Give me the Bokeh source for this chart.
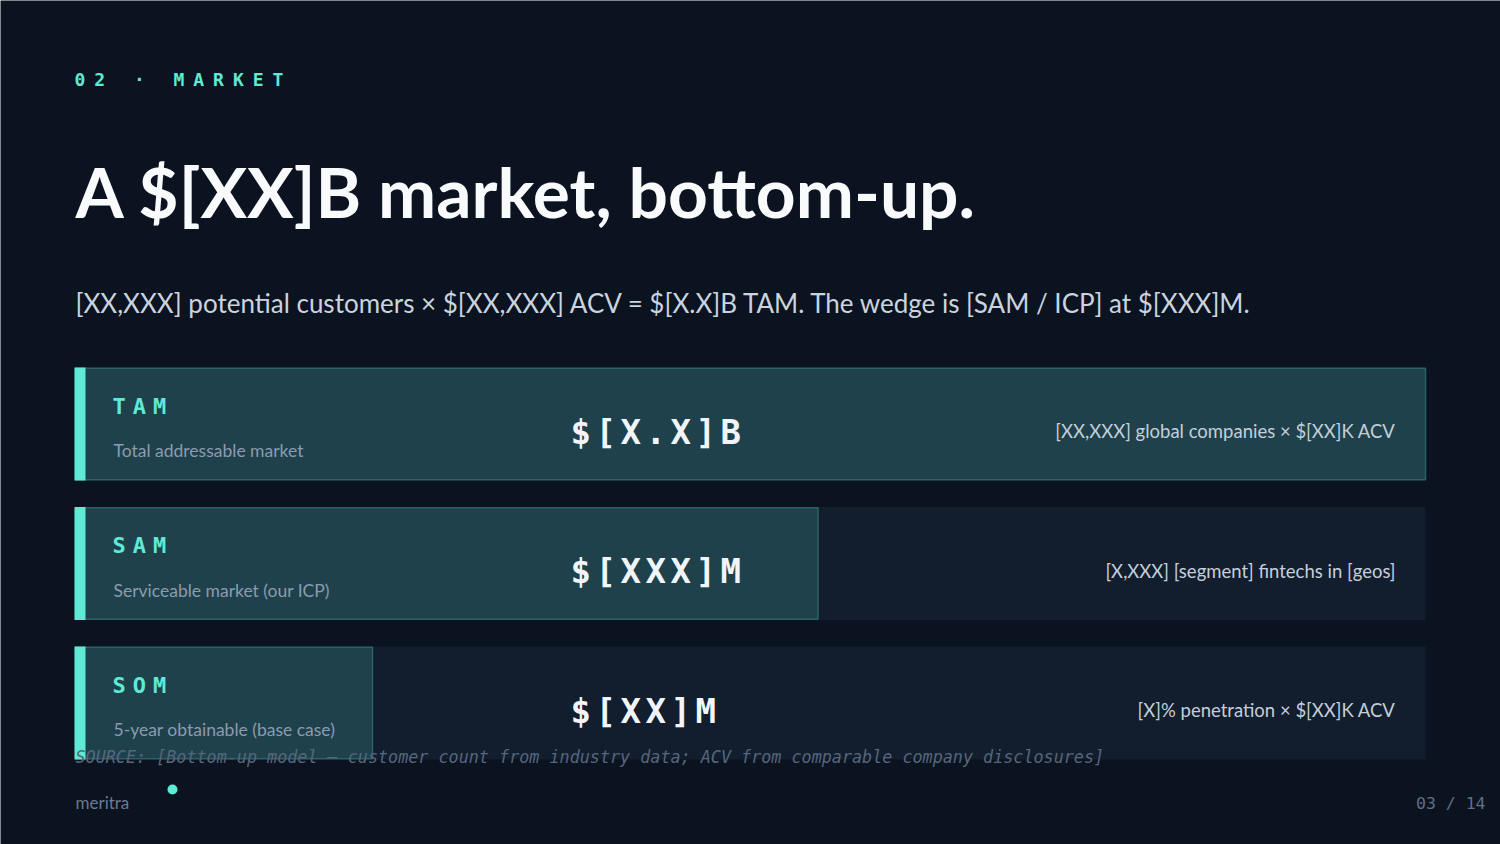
from bokeh.plotting import figure
from bokeh.models import Range1d
from bokeh.core.properties import value
from bokeh.embed import file_html
from bokeh.resources import INLINE

# ---------------- data ----------------
section_label = "02 · MARKET"
title = "A $[XX]B market, bottom-up."
subtitle = ("[XX,XXX] potential customers × $[XX,XXX] ACV = $[X.X]B TAM. "
            "The wedge is [SAM / ICP] at $[XXX]M.")
tiers = ["TAM", "SAM", "SOM"]
tier_descriptions = ["Total addressable market",
                     "Serviceable market (our ICP)",
                     "5-year obtainable (base case)"]
tier_values = ["$[X.X]B", "$[XXX]M", "$[XX]M"]
tier_share = [100, 55, 22]          # bar length as % of the TAM track
tier_notes = ["[XX,XXX] global companies × $[XX]K ACV",
              "[X,XXX] [segment] fintechs in [geos]",
              "[X]% penetration × $[XX]K ACV"]
source_note = ("SOURCE: [Bottom-up model — customer count from industry data; "
               "ACV from comparable company disclosures]")
brand = "meritra"
page_label = "03 / 14"

# ---------------- style / layout ----------------
BG = "#0b1220"
TRACK = "#121d2e"
BAR = "#1f414c"
BAR_LINE = "#2b6265"
TEAL = "#5eead4"
WHITE = "#f8fafc"
MONO = "DejaVu Sans Mono"
SANS = "Lato"

W, H = 1500, 844
TRACK_L, TRACK_R = 75, 1425
ROW_TOP0, ROW_PITCH, ROW_H = 367, 139.5, 113
ACCENT_W = 10
BASE_SHIFT = 0.38   # em correction for the svg alphabetic baseline

scale = (TRACK_R - TRACK_L) / 100.0
share_range = Range1d(-TRACK_L / scale, 100 + (W - TRACK_R) / scale)

p = figure(width=W, height=H, x_range=Range1d(0, W), y_range=Range1d(H, 0),
           output_backend="svg", toolbar_location=None, min_border=0,
           x_axis_location=None, y_axis_location=None,
           background_fill_color=BG, border_fill_color=BG, outline_line_color=None)
p.extra_x_ranges = {"share": share_range}
p.grid.visible = False


def by(y, size):
    return y - BASE_SHIFT * size


n = len(tiers)
tops = [ROW_TOP0 + i * ROW_PITCH for i in range(n)]
bottoms = [t + ROW_H for t in tops]

# tracks (full width)
p.quad(left=[0] * n, right=[100] * n, top=tops, bottom=bottoms,
       x_range_name="share", fill_color=TRACK, line_color=None)
# value bars
p.quad(left=[0] * n, right=tier_share, top=[t + 0.75 for t in tops],
       bottom=[b - 0.75 for b in bottoms], x_range_name="share",
       fill_color=BAR, line_color=BAR_LINE, line_width=1.5)
# accent strips
p.quad(left=[TRACK_L - 1] * n, right=[TRACK_L + ACCENT_W] * n, top=tops, bottom=bottoms,
       fill_color=TEAL, line_color=None)


def draw_spaced(text, x0, pitch, y, size, color, style="bold"):
    xs, ys, cs = [], [], []
    for i, ch in enumerate(text):
        if ch != " ":
            xs.append(x0 + i * pitch)
            ys.append(by(y, size))
            cs.append(ch)
    p.text(x=xs, y=ys, text=cs, text_font=value(MONO), text_font_size=f"{size}px",
           text_font_style=style, text_color=color, text_baseline="alphabetic",
           text_align="left")


# header
draw_spaced(section_label, 74, 19.8, 86, 18, TEAL)

# title
p.text(x=[75], y=[by(217, 69.5)], text=[title], text_font=value(SANS), text_font_size="69.5px",
       text_font_style="bold", text_color=WHITE, text_baseline="alphabetic")
# subtitle
p.text(x=[75], y=[by(312, 26)], text=[subtitle], text_font=value(SANS), text_font_size="26px",
       text_color="#c9d4df", text_baseline="alphabetic")

# rows
for i in range(n):
    t = tops[i]
    draw_spaced(tiers[i], 112, 20.3, t + 47, 22, TEAL)
    draw_spaced(tier_values[i], 570, 25, t + 77, 34, "#f1f5f9")

p.text(x=[113] * n, y=[by(t + 90, 17.5) for t in tops], text=tier_descriptions,
       text_font=value(SANS), text_font_size="17.5px", text_color="#8b9bb0",
       text_baseline="alphabetic")
p.text(x=[1395] * n, y=[by(t + 71, 18.5) for t in tops], text=tier_notes,
       text_font=value(SANS), text_font_size="18.5px", text_color="#c3cfdb",
       text_baseline="alphabetic", text_align="right")

# source
p.text(x=[75], y=[by(763, 16.75)], text=[source_note], text_font=value(MONO),
       text_font_size="16.75px", text_font_style="italic", text_color="#56667c",
       text_baseline="alphabetic")

# footer
p.text(x=[75], y=[by(808, 17)], text=[brand], text_font=value(SANS), text_font_size="17px",
       text_color="#6b7a90", text_baseline="alphabetic")
p.scatter(x=[172], y=[789], size=10, fill_color=TEAL, line_color=None)
p.text(x=[1485], y=[by(809, 16.5)], text=[page_label], text_font=value(MONO),
       text_font_size="16.5px", text_color="#5f6f85", text_baseline="alphabetic",
       text_align="right")

open("out.html", "w").write(file_html(p, INLINE))
